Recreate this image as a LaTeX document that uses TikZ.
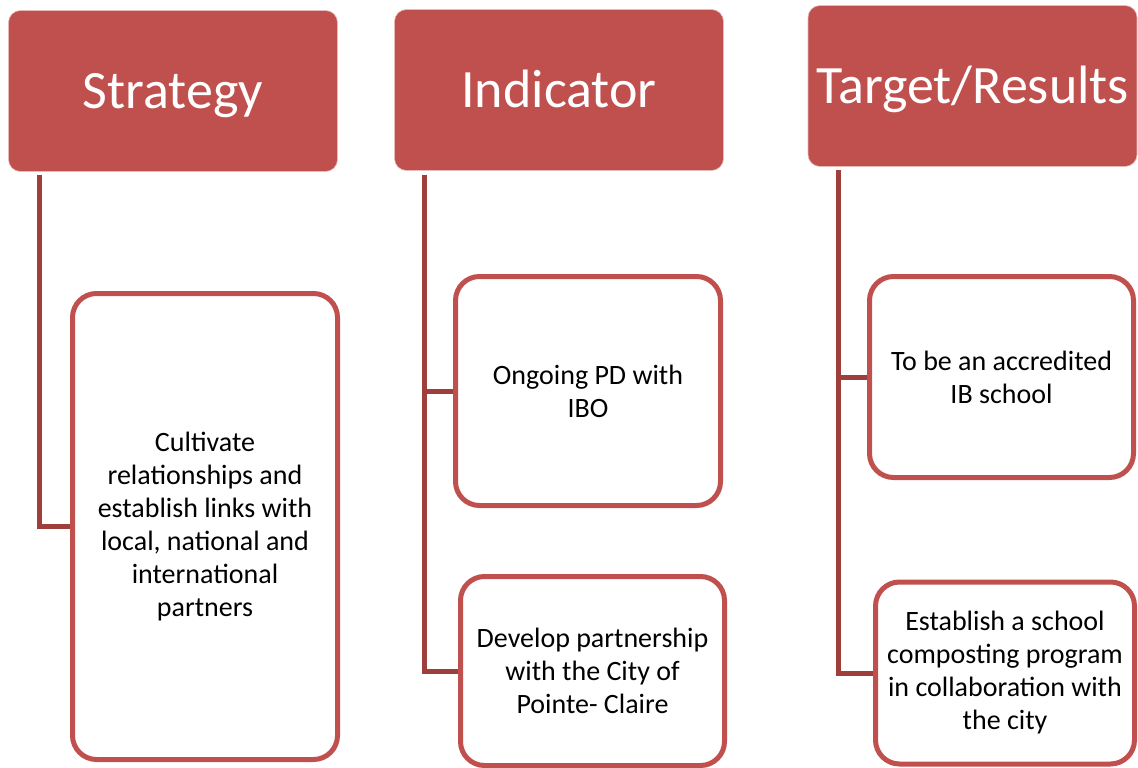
\documentclass[tikz,border=0pt]{standalone}
\usepackage{fontspec}
\setmainfont{Carlito}
\definecolor{hdr}{HTML}{C0504D}
\definecolor{conn}{HTML}{9E3F3C}
\tikzset{
  header/.style={rectangle, rounded corners=12pt, fill=hdr, draw=hdr!40!white, line width=0.6pt,
    text=white, font=\fontsize{54}{60}\selectfont, minimum width=329pt, minimum height=161pt, inner sep=0pt,
    text height=35pt, text depth=0pt},
  childbox/.style={rectangle, rounded corners=24pt, fill=white, draw=hdr, line width=5pt,
    text=black, align=center, font=\fontsize{28}{33}\selectfont, inner sep=0pt},
  link/.style={draw=conn, line width=5pt, line join=miter}
}
\begin{document}
\begin{tikzpicture}[x=1pt,y=-1pt]
\useasboundingbox (0,0) rectangle (1138,768);
% headers
\node[header] (h1) at (173,91) {Strategy};
\node[header] (h2) at (559,90) {Indicator};
\node[header] (h3) at (972.5,86) {Target/Results};
% child boxes
\node[childbox, minimum width=265pt, minimum height=466pt] (b1) at (205,526.5)
  {Cultivate\\relationships and\\establish links with\\local, national and\\international\\partners};
\node[childbox, minimum width=265pt, minimum height=229pt] (b2a) at (588,391)
  {Ongoing PD with\\IBO};
\node[childbox, minimum width=264pt, minimum height=189pt] (b2b) at (592.5,671)
  {Develop partnership\\with the City of\\Pointe- Claire};
\node[childbox, minimum width=264pt, minimum height=201pt] (b3a) at (1001.5,377)
  {To be an accredited\\IB school};
\node[childbox, minimum width=259pt, minimum height=182pt] (b3b) at (1005,673)
  {Establish a school\\composting program\\in collaboration with\\the city};
% connector start points just below headers
\coordinate (t1) at (39,175);
\coordinate (t2) at (424,175);
\coordinate (t3) at (838,170);
\draw[link] (t1) |- (b1.west);
\draw[link] (t2) |- (b2b.west);
\draw[link] (t2) |- (b2a.west);
\draw[link] (t3) |- (b3b.west);
\draw[link] (t3) |- (b3a.west);
\end{tikzpicture}
\end{document}
